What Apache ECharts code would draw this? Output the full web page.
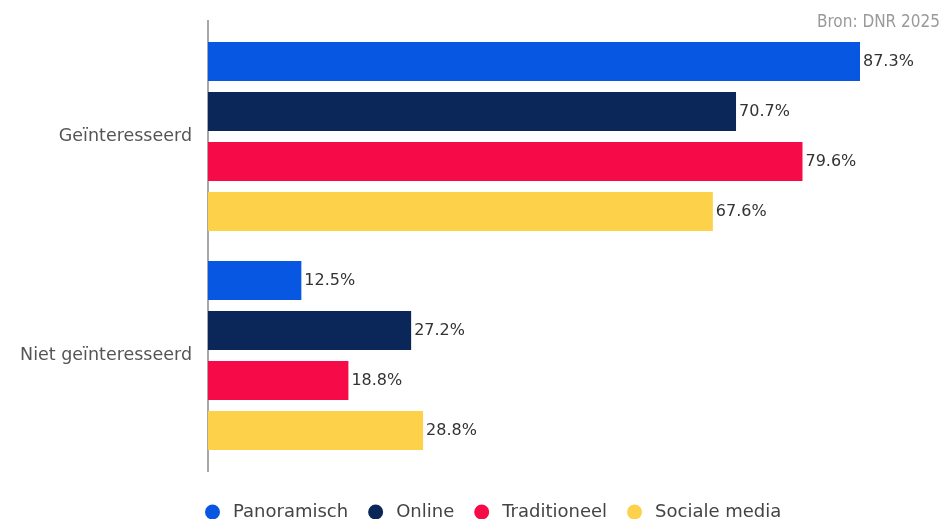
<!DOCTYPE html>
<html><head><meta charset="utf-8">
<script src="https://cdn.jsdelivr.net/npm/echarts@6/dist/echarts.min.js"></script>
<style>html,body{margin:0;padding:0;background:#fff}#c{width:943px;height:519px}</style>
</head><body><div id="c"></div>
<script>
const categories = ['Geïnteresseerd', 'Niet geïnteresseerd'];
const seriesNames = ['Panoramisch', 'Online', 'Traditioneel', 'Sociale media'];
const panoramisch = [87.3, 12.5];
const online = [70.7, 27.2];
const traditioneel = [79.6, 18.8];
const socialeMedia = [67.6, 28.8];
const colors = ['#0757e2', '#0b2659', '#f70a48', '#fed14b'];
const values = [panoramisch, online, traditioneel, socialeMedia];

const chart = echarts.init(document.getElementById('c'));
const FONT = '"DejaVu Sans", sans-serif';
chart.setOption({
  animation: false,
  textStyle: { fontFamily: FONT },
  graphic: [{
    type: 'text', right: 3, top: 14,
    style: { text: 'Bron: DNR 2025', fill: '#9a9a9a', fontSize: 17, fontFamily: '"DejaVu Sans Condensed", sans-serif' }
  }, {
    type: 'line', shape: { x1: 208, y1: 20, x2: 208, y2: 472 },
    style: { stroke: '#8a8a8a', lineWidth: 1.5 }
  }],
  legend: {
    left: 200, bottom: -7, icon: 'circle', itemWidth: 15, itemHeight: 15, itemGap: 20,
    textStyle: { fontSize: 18, color: '#444', fontFamily: FONT, padding: [0, 0, 0, 8] },
    data: seriesNames
  },
  grid: { left: 208, right: 83, top: 27, bottom: 54, containLabel: false },
  xAxis: { type: 'value', min: 0, max: 87.3, show: false },
  yAxis: {
    type: 'category', data: categories, inverse: true,
    axisLine: { show: false },
    axisTick: { show: false },
    axisLabel: { fontSize: 17.5, color: '#555', margin: 16, fontFamily: FONT }
  },
  series: seriesNames.map((n, i) => ({
    name: n, type: 'bar', data: values[i],
    barGap: '28%', barCategoryGap: '13.7%',
    itemStyle: { color: colors[i] },
    label: { show: true, position: 'right', distance: 3, formatter: p => p.value.toFixed(1) + '%', fontSize: 16, color: '#333', fontFamily: FONT }
  }))
});
</script></body></html>
